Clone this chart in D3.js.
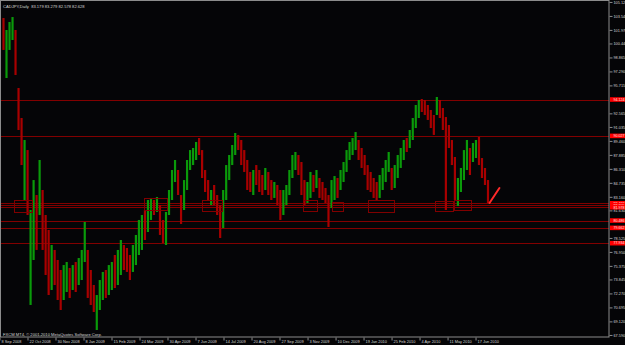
<!DOCTYPE html>
<html>
<head>
<meta charset="utf-8">
<script src="https://cdn.jsdelivr.net/npm/d3@7"></script>
<style>
  body { margin: 0; background: #050507; }
  svg { display: block; }
  text { font-family: "Liberation Sans", Arial, sans-serif; }
</style>
</head>
<body>
<svg id="chart"></svg>
<script>
var dimensions = {
    width: 625,
    height: 345,
    plotLeft: 1,
    plotTop: 1,
    plotRight: 609,
    plotBottom: 337,
    firstBarX: 3.5,
    lastBarX: 488
}

var symbolTitle = "CADJPY,Daily  83.179 83.279 82.578 82.628"
var copyright = "FXCM MT4, \u00a9 2001-2010 MetaQuotes Software Corp."

// daily bars (sampled), high / low / direction
var barHigh = [
    103.31, 101.96, 102.86, 103.42, 101.96, 95.42, 92.04, 89.56, 88.43, 81.67,
    85.05, 83.36, 87.31, 83.93, 81.11, 79.42, 77.73, 77.17, 76.04, 74.91,
    75.47, 75.81, 75.14, 75.47, 75.81, 76.26, 77.17, 80.32, 77.17, 74.91,
    73.22, 72.09, 73.78, 74.69, 74.91, 75.47, 75.81, 76.60, 77.17, 78.29,
    77.73, 77.39, 76.60, 77.73, 78.86, 80.55, 81.11, 81.67, 82.80, 83.03,
    82.80, 83.14, 82.24, 80.55, 81.45, 83.93, 86.18, 87.31, 86.18, 83.36,
    85.05, 87.31, 88.43, 88.66, 89.34, 89.79, 88.43, 86.18, 85.05, 83.93,
    84.49, 83.36, 82.24, 83.93, 86.74, 87.87, 89.00, 90.35, 90.13, 89.56,
    88.43, 87.31, 85.96, 86.18, 86.74, 86.18, 85.62, 86.41, 85.96, 85.05,
    84.83, 84.49, 83.93, 83.93, 84.49, 86.18, 87.87, 88.21, 87.87, 87.08,
    85.05, 84.83, 85.96, 85.62, 86.18, 85.28, 84.83, 84.15, 83.36, 85.05,
    85.50, 85.28, 86.18, 87.08, 88.43, 89.34, 89.79, 90.46, 89.56, 88.66,
    87.87, 86.74, 85.96, 85.28, 84.83, 85.62, 86.41, 87.31, 88.21, 86.41,
    86.74, 87.87, 88.66, 89.56, 89.79, 90.69, 92.04, 93.51, 94.07, 94.18,
    94.07, 93.51, 92.94, 92.38, 94.41, 94.07, 93.17, 92.15, 91.25, 89.56,
    87.65, 85.28, 86.41, 88.43, 89.56, 88.66, 89.22, 89.56, 89.90, 87.53,
    86.41, 85.05
]
var barLow = [
    99.71, 96.55, 99.71, 100.83, 96.89, 90.69, 86.74, 82.80, 81.11, 70.97,
    76.04, 77.17, 81.11, 77.17, 74.35, 72.09, 72.66, 73.22, 71.53, 70.40,
    71.53, 72.43, 71.76, 72.66, 72.43, 73.22, 73.78, 75.81, 71.76, 70.97,
    70.18, 68.15, 70.40, 71.53, 71.76, 72.09, 72.66, 72.88, 73.22, 74.35,
    74.91, 74.69, 73.78, 74.69, 75.47, 76.60, 77.17, 78.29, 79.19, 80.55,
    81.11, 81.45, 78.86, 77.95, 77.73, 81.11, 82.80, 84.83, 83.36, 80.10,
    81.67, 83.93, 86.18, 86.74, 87.31, 87.87, 85.28, 83.70, 82.80, 82.24,
    82.24, 81.11, 78.52, 79.64, 82.80, 85.05, 86.74, 87.87, 88.43, 86.74,
    85.96, 83.93, 83.70, 83.36, 84.49, 83.70, 83.36, 83.93, 83.36, 82.80,
    83.03, 82.24, 80.55, 81.11, 82.24, 83.36, 85.28, 86.18, 85.62, 83.36,
    82.24, 82.46, 83.03, 83.70, 84.15, 83.03, 82.80, 82.46, 79.76, 81.90,
    82.80, 83.03, 83.93, 84.83, 85.96, 87.31, 87.87, 88.43, 87.31, 86.41,
    85.62, 83.93, 83.70, 83.03, 82.80, 83.03, 83.93, 84.83, 85.96, 83.93,
    84.15, 85.28, 86.41, 87.31, 88.21, 88.66, 89.56, 90.91, 92.04, 92.72,
    92.38, 91.82, 90.91, 90.13, 92.38, 92.04, 90.69, 81.67, 88.66, 86.74,
    82.80, 82.12, 83.70, 85.05, 86.18, 85.62, 87.08, 87.53, 86.74, 85.28,
    84.49, 82.46
]
var barDir = ("duuudddudu" + "ududdduddd" + "uududuuudd" + "duuuduuduu" +
              "ddduuuuduu" + "dudduuuudd" + "uuuuuddddu" + "ddduuuuudd" +
              "dddudddudd" + "udduuuuudd" + "duududdddu" + "uduuuuuudd" +
              "ddddduuuud" + "uuuuduuuud" + "dddduddddd" + "duuuuduudd" + "dd").split("")

// horizontal support / resistance lines
var levelPrices = [94.124, 90.027, 82.432, 82.205, 81.978, 80.486, 79.662, 77.934]

// boxes drawn on the chart: start bar, end bar, top price, bottom price
var zoneStart = [3.5, 46.8, 65.8, 99.5, 109.2, 121.2, 143.5, 149.8]
var zoneEnd = [9.5, 54.5, 72.5, 104.2, 112.8, 129.8, 149.5, 155.5]
var zoneTop = [82.80, 83.03, 82.80, 82.80, 82.57, 82.80, 82.69, 82.80]
var zoneBottom = [81.45, 81.67, 81.56, 81.56, 81.56, 81.45, 81.56, 81.67]

// trend line: [bar, price]
var trendFrom = [161.5, 82.46]
var trendTo = [164.8, 84.15]

var priceTicks = [105.120, 103.545, 101.970, 100.440, 98.865, 97.290, 95.715, 92.565,
                  91.035, 89.460, 87.885, 86.310, 84.735, 83.160, 81.630, 78.525,
                  76.950, 75.375, 73.845, 72.270, 70.695, 69.120, 67.590]

var dateLabels = ["8 Sep 2008", "22 Oct 2008", "30 Nov 2008", "8 Jan 2009", "15 Feb 2009",
                  "24 Mar 2009", "30 Apr 2009", "7 Jun 2009", "14 Jul 2009", "20 Aug 2009",
                  "27 Sep 2009", "3 Nov 2009", "10 Dec 2009", "19 Jan 2010", "25 Feb 2010",
                  "4 Apr 2010", "11 May 2010", "17 Jun 2010"]
var dateBars = [-1.33, 7.98, 17.28, 26.59, 35.89, 45.2, 54.5, 63.81, 73.11, 82.42,
                91.72, 101.03, 110.34, 119.64, 128.95, 138.25, 147.56, 156.86]

var colors = {
    up: "#0a9a0a",
    down: "#a80000",
    level: "#820000",
    zone: "#800000",
    trend: "#ff2a2a",
    frame: "#8c8c8c",
    text: "#d4d4d4",
    label: "#ff0000"
}

var svg = d3.select("#chart")
            .attr("width", dimensions.width)
            .attr("height", dimensions.height)
            .style("background", "#050507")

var xScale = d3.scaleLinear()
               .domain([0, barHigh.length - 1])
               .range([dimensions.firstBarX, dimensions.lastBarX])
var yScale = d3.scaleLinear()
               .domain([67.36, 105.34])
               .range([dimensions.plotBottom, 0])

var plot = svg.append("g")

// levels
plot.selectAll(".level")
    .data(levelPrices)
    .enter()
    .append("line")
    .attr("class", "level")
    .attr("x1", dimensions.plotLeft)
    .attr("x2", dimensions.plotRight)
    .attr("y1", d => Math.round(yScale(d)) + 0.5)
    .attr("y2", d => Math.round(yScale(d)) + 0.5)
    .attr("stroke", colors.level)
    .attr("stroke-width", 1)

// bars
plot.selectAll(".bar")
    .data(barHigh)
    .enter()
    .append("line")
    .attr("class", "bar")
    .attr("x1", (d, i) => xScale(i))
    .attr("x2", (d, i) => xScale(i))
    .attr("y1", d => yScale(d))
    .attr("y2", (d, i) => yScale(barLow[i]))
    .attr("stroke", (d, i) => barDir[i] == "u" ? colors.up : colors.down)
    .attr("stroke-width", 2.2)

// zones
plot.selectAll(".zone")
    .data(zoneStart)
    .enter()
    .append("rect")
    .attr("class", "zone")
    .attr("x", (d, i) => Math.round(xScale(d)) + 0.5)
    .attr("y", (d, i) => Math.round(yScale(zoneTop[i])) + 0.5)
    .attr("width", (d, i) => Math.round(xScale(zoneEnd[i]) - xScale(d)))
    .attr("height", (d, i) => Math.round(yScale(zoneBottom[i]) - yScale(zoneTop[i])))
    .attr("fill", "none")
    .attr("stroke", colors.zone)
    .attr("stroke-width", 1)

// trend line
plot.append("line")
    .attr("x1", xScale(trendFrom[0]))
    .attr("y1", yScale(trendFrom[1]))
    .attr("x2", xScale(trendTo[0]))
    .attr("y2", yScale(trendTo[1]))
    .attr("stroke", colors.trend)
    .attr("stroke-width", 2)
    .attr("stroke-linecap", "round")

// frame
svg.append("rect")
   .attr("x", 0.5)
   .attr("y", 0.5)
   .attr("width", dimensions.plotRight - 0.5)
   .attr("height", dimensions.plotBottom - 0.5)
   .attr("fill", "none")
   .attr("stroke", colors.frame)

// price axis
var yAxisgen = d3.axisRight(yScale)
                 .tickValues(priceTicks)
                 .tickFormat(d3.format(".3f"))
                 .tickSize(3)
                 .tickSizeOuter(0)
var yAxis = svg.append("g")
               .attr("transform", `translate(${dimensions.plotRight + 0.5},0)`)
               .call(yAxisgen)
yAxis.select(".domain").remove()
yAxis.selectAll("line").attr("stroke", colors.frame)
yAxis.selectAll("text")
     .attr("x", 4)
     .attr("font-size", 3.8)
     .attr("fill", colors.text)

// red price labels for each level
var tags = svg.selectAll(".tag")
              .data(levelPrices)
              .enter()
              .append("g")
              .attr("class", "tag")
              .attr("transform", d => `translate(${dimensions.plotRight + 1},${yScale(d)})`)
tags.append("rect")
    .attr("x", 0)
    .attr("y", -2.3)
    .attr("width", dimensions.width - dimensions.plotRight)
    .attr("height", 4.6)
    .attr("fill", colors.label)
tags.append("text")
    .attr("x", 3.5)
    .attr("dy", "0.35em")
    .attr("font-size", 3.6)
    .attr("fill", "#ffe0e0")
    .text(d => d3.format(".3f")(d))

// date axis
var xAxisgen = d3.axisBottom(xScale)
                 .tickValues(dateBars)
                 .tickFormat((d, i) => dateLabels[i])
                 .tickSize(3)
                 .tickSizeOuter(0)
var xAxis = svg.append("g")
               .attr("transform", `translate(0,${dimensions.plotBottom + 0.5})`)
               .call(xAxisgen)
xAxis.select(".domain").remove()
xAxis.selectAll("line").attr("stroke", colors.frame)
xAxis.selectAll("text")
     .attr("text-anchor", "start")
     .attr("x", 1.5)
     .attr("y", 2.5)
     .attr("dy", "0.71em")
     .attr("font-size", 3.9)
     .attr("fill", colors.text)

// captions
svg.append("text")
   .attr("x", 3)
   .attr("y", 7.5)
   .attr("font-size", 4.1)
   .attr("fill", colors.text)
   .style("white-space", "pre")
   .text(symbolTitle)
svg.append("text")
   .attr("x", 3)
   .attr("y", 335.5)
   .attr("font-size", 4.1)
   .attr("fill", colors.text)
   .text(copyright)
</script>
</body>
</html>
